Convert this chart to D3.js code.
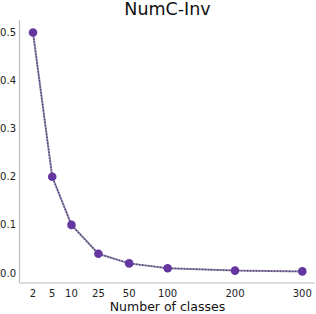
<!DOCTYPE html>
<html>
<head>
<meta charset="utf-8">
<script src="https://cdn.jsdelivr.net/npm/d3@7"></script>
<style>
  body { margin: 0; background: #fff; }
  text { font-family: "DejaVu Sans", sans-serif; }
</style>
</head>
<body>
<div id="root"></div>
<script>
// DATA
const classes = [2, 5, 10, 25, 50, 100, 200, 300];
const numcInv = [0.5, 0.2, 0.1, 0.04, 0.02, 0.01, 0.005, 0.0033];
const yTicks = [0.0, 0.1, 0.2, 0.3, 0.4, 0.5];
// slot along the axis for each category (uneven spacing in the original)
const slots = [0, 1, 2, 3.4, 5, 7, 10.5, 14];

// DIMENSIONS
const width = 316, height = 314;
const margin = {top: 20, right: 315, bottom: 283, left: 19.5};

const svg = d3.select('#root').append('svg')
  .attr('width', width)
  .attr('height', height);

// SCALES
const slot = d3.scaleLinear().domain(classes).range(slots);
const xs = d3.scaleLinear().domain([0, 14]).range([33, 302.3]);
const x = d => xs(slot(d));
const y = d3.scaleLinear().domain([0, 0.5]).range([273, 32.5]);

// SPINES
svg.append('line')
  .attr('x1', margin.left).attr('x2', margin.left)
  .attr('y1', margin.top).attr('y2', margin.bottom)
  .attr('stroke', '#bdbdbd').attr('stroke-width', 1.2);
svg.append('line')
  .attr('x1', margin.left).attr('x2', margin.right)
  .attr('y1', margin.bottom).attr('y2', margin.bottom)
  .attr('stroke', '#bdbdbd').attr('stroke-width', 1.2);

// Y TICK LABELS
svg.append('g').selectAll('text').data(yTicks).join('text')
  .attr('x', 16).attr('y', d => y(d))
  .attr('dy', '0.35em')
  .attr('text-anchor', 'end')
  .attr('font-size', 10)
  .attr('fill', '#222')
  .text(d => d.toFixed(1));

// X TICK LABELS
svg.append('g').selectAll('text').data(classes).join('text')
  .attr('x', d => x(d)).attr('y', 293)
  .attr('dy', '0.35em')
  .attr('text-anchor', 'middle')
  .attr('font-size', 10)
  .attr('fill', '#222')
  .text(d => d);

// AXIS LABEL + TITLE
svg.append('text')
  .attr('x', 167.5).attr('y', 311)
  .attr('text-anchor', 'middle')
  .attr('font-size', 12.5)
  .attr('fill', '#111')
  .text('Number of classes');

svg.append('text')
  .attr('x', 167.5).attr('y', 15)
  .attr('text-anchor', 'middle')
  .attr('font-size', 17.5)
  .attr('fill', '#111')
  .text('NumC-Inv');

// LINE
const pts = classes.map((c, i) => ({c: c, v: numcInv[i]}));
const line = d3.line().x(d => x(d.c)).y(d => y(d.v));

svg.append('path').datum(pts)
  .attr('fill', 'none')
  .attr('stroke', '#9c93ad')
  .attr('stroke-width', 2)
  .attr('d', line);
svg.append('path').datum(pts)
  .attr('fill', 'none')
  .attr('stroke', '#4f3a7e')
  .attr('stroke-width', 1.3)
  .attr('stroke-dasharray', '1.5,1.5')
  .attr('d', line);

// MARKERS
svg.append('g').selectAll('circle').data(pts).join('circle')
  .attr('cx', d => x(d.c)).attr('cy', d => y(d.v))
  .attr('r', 4.3)
  .attr('fill', '#6636a0');
</script>
</body>
</html>
